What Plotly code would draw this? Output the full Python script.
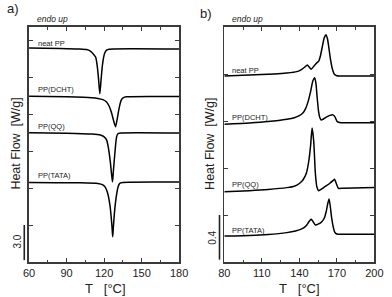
import plotly.graph_objects as go

# ---------------- data ----------------
# Panel a: cooling (crystallization), offset curves, W/g (tick spacing 3.0)
a_neat_T = [60, 85, 100, 106, 109, 111.5, 113.3, 114.5, 115.6, 116.6, 117.6, 118.6, 119.6, 120.5, 122, 124, 180]
a_neat_y = [17.35, 17.32, 17.28, 17.23, 17.1, 16.85, 16.6, 15.9, 14.8, 13.65, 14.8, 15.9, 16.6, 16.95, 17.18, 17.26, 17.27]

a_dcht_T = [60, 90, 110, 115, 119, 122, 124, 126, 127.5, 129.2, 130.3, 131.3, 132.5, 133.8, 135.5, 137.7, 180]
a_dcht_y = [13.45, 13.40, 13.33, 13.27, 13.17, 12.98, 12.65, 12.08, 11.5, 10.97, 11.5, 12.08, 12.7, 13.14, 13.33, 13.40, 13.42]

a_qq_T = [60, 90, 110, 117, 120, 122, 123, 124, 125, 125.8, 126.7, 127.3, 128, 128.7, 129.3, 130, 131, 133, 180]
a_qq_y = [10.48, 10.45, 10.38, 10.30, 10.15, 9.9, 9.5, 8.9, 8.1, 7.3, 6.5, 7.2, 8.1, 8.9, 9.6, 10.15, 10.4, 10.46, 10.46]

a_tata_T = [60, 100, 115, 119, 121, 122.5, 123.5, 124.8, 125.8, 126.5, 126.9, 127.4, 128.2, 129.2, 130.2, 131.2, 132.5, 135, 180]
a_tata_y = [6.45, 6.42, 6.36, 6.25, 6.05, 5.7, 5.3, 4.5, 3.5, 2.6, 2.05, 2.8, 3.9, 4.9, 5.6, 6.1, 6.38, 6.45, 6.48]

# Panel b: heating (melting), offset curves, W/g (tick spacing 0.4)
b_neat_T = [80, 100, 120, 130, 138, 142, 144.5, 146.4, 147.8, 149.5, 151.5, 153.5, 155.5, 157, 158.5, 160, 161.3, 162.5, 163.8, 165, 166.5, 168.2, 170, 172, 200]
b_neat_y = [1.583, 1.592, 1.600, 1.608, 1.620, 1.640, 1.660, 1.677, 1.660, 1.640, 1.665, 1.690, 1.71, 1.76, 1.84, 1.91, 1.935, 1.90, 1.81, 1.72, 1.64, 1.595, 1.585, 1.583, 1.583]

b_dcht_T = [80, 100, 115, 130, 136, 140, 143, 145, 147, 149, 150.8, 152.3, 153.3, 154.1, 155.4, 156.5, 157.4, 159, 162, 164.5, 166.9, 168.5, 170.3, 173.3, 200]
b_dcht_y = [1.173, 1.183, 1.195, 1.215, 1.228, 1.245, 1.270, 1.305, 1.365, 1.45, 1.54, 1.569, 1.52, 1.42, 1.28, 1.225, 1.209, 1.215, 1.235, 1.248, 1.252, 1.235, 1.194, 1.186, 1.186]

b_qq_T = [80, 100, 115, 130, 136, 140, 143, 145.6, 147.7, 149, 150.2, 151.5, 152.8, 154, 155.4, 158, 160.5, 164.4, 166.9, 168.2, 169.5, 171.3, 175, 200]
b_qq_y = [0.598, 0.607, 0.617, 0.633, 0.645, 0.668, 0.700, 0.755, 0.868, 0.99, 1.14, 1.03, 0.757, 0.64, 0.607, 0.622, 0.641, 0.670, 0.692, 0.704, 0.670, 0.627, 0.628, 0.633]

b_tata_T = [80, 100, 115, 130, 137, 141, 144, 146, 147.8, 149.5, 151, 152.8, 155, 158, 160, 161.5, 162.8, 163.8, 164.8, 165.8, 166.9, 168.3, 170, 175, 200]
b_tata_y = [0.221, 0.226, 0.234, 0.250, 0.264, 0.278, 0.295, 0.315, 0.345, 0.363, 0.343, 0.315, 0.322, 0.343, 0.375, 0.43, 0.50, 0.536, 0.47, 0.38, 0.31, 0.255, 0.238, 0.236, 0.236]

names = ["neat PP", "PP(DCHT)", "PP(QQ)", "PP(TATA)"]
a_ticks = [60, 90, 120, 150, 180]
b_ticks = [80, 110, 140, 170, 200]
scale_a = 3.0
scale_b = 0.4

# ---------------- figure ----------------
W, H = 392, 297
def px(x):
    return x / W
def py(y):
    return 1 - y / H

FONT = "Liberation Sans, Arial, sans-serif"
fig = go.Figure()

line = dict(color="black", width=1.5, shape="spline", smoothing=0.6)
for T, y in [(a_neat_T, a_neat_y), (a_dcht_T, a_dcht_y), (a_qq_T, a_qq_y), (a_tata_T, a_tata_y)]:
    fig.add_trace(go.Scatter(x=T, y=y, mode="lines", line=line, xaxis="x", yaxis="y", showlegend=False))
for T, y in [(b_neat_T, b_neat_y), (b_dcht_T, b_dcht_y), (b_qq_T, b_qq_y), (b_tata_T, b_tata_y)]:
    fig.add_trace(go.Scatter(x=T, y=y, mode="lines", line=line, xaxis="x2", yaxis="y2", showlegend=False))

frame = dict(showline=True, linecolor="#3a3a3a", linewidth=1.6, mirror="ticks", ticks="inside",
             ticklen=4, tickwidth=1, tickcolor="#3a3a3a", showgrid=False, zeroline=False)
tickfont = dict(family=FONT, size=11, color="#222")

fig.update_layout(
    width=W, height=H, autosize=False,
    margin=dict(l=0, r=0, t=0, b=0),
    paper_bgcolor="white", plot_bgcolor="white",
    xaxis=dict(domain=[px(24), px(180)], range=[60, 180], tickvals=a_ticks, anchor="y",
               minor=dict(dtick=15, tick0=60, ticks="inside", ticklen=2.5, tickcolor="#3a3a3a"),
               tickfont=tickfont, **frame),
    yaxis=dict(domain=[py(262), py(27)], range=[0, 19.06], dtick=3, tick0=0, showticklabels=False,
               anchor="x", **frame),
    xaxis2=dict(domain=[px(227), px(383)], range=[80, 200], tickvals=b_ticks, anchor="y2",
                minor=dict(dtick=15, tick0=80, ticks="inside", ticklen=2.5, tickcolor="#3a3a3a"),
                tickfont=tickfont, **frame),
    yaxis2=dict(domain=[py(262), py(27)], range=[0, 2.0], dtick=0.4, tick0=0, showticklabels=False,
                anchor="x2", **frame),
)

ann = []
def text(x, y, s, size, xanchor="center", italic=False, angle=0, color="#222"):
    st = "italic" if italic else "normal"
    ann.append(dict(xref="paper", yref="paper", x=px(x), y=py(y), text=s, showarrow=False,
                    xanchor=xanchor, yanchor="middle", textangle=angle,
                    font=dict(family=FONT, size=size, color=color, style=st)))

text(7, 9, "a)", 13)
text(208, 13, "b)", 13)
text(30, 19, "endo up", 8.5, xanchor="left", italic=True)
text(233, 19, "endo up", 8.5, xanchor="left", italic=True)

for name, yy in zip(names, [43, 90, 126, 175]):
    text(31, yy, name, 7.5, xanchor="left")
for name, yy in zip(names, [70, 117, 184, 230]):
    text(233, yy, name, 7.5, xanchor="left")

text(10, 144, "Heat Flow\u00a0\u00a0[W/g]", 12.5, angle=-90)
text(212, 144, "Heat Flow\u00a0\u00a0[W/g]", 12.5, angle=-90)
text(103, 288, "T\u00a0\u00a0\u00a0[°C]", 13)
text(305, 288, "T\u00a0\u00a0\u00a0[°C]", 13)
text(11, 242, "3.0", 10, angle=-90)
text(214, 238, "0.4", 10, angle=-90)
fig.update_layout(annotations=ann)

fig.add_shape(type="line", xref="paper", yref="y", x0=px(19), x1=px(19), y0=0.15, y1=scale_a,
              line=dict(color="#222", width=1.6))
fig.add_shape(type="line", xref="paper", yref="y2", x0=px(222), x1=px(222), y0=0.02, y1=scale_b,
              line=dict(color="#222", width=1.6))

fig.write_html("out.html", config={"displayModeBar": False, "staticPlot": True},
               post_script="document.body.style.margin='0px';document.body.style.overflow='hidden';")
